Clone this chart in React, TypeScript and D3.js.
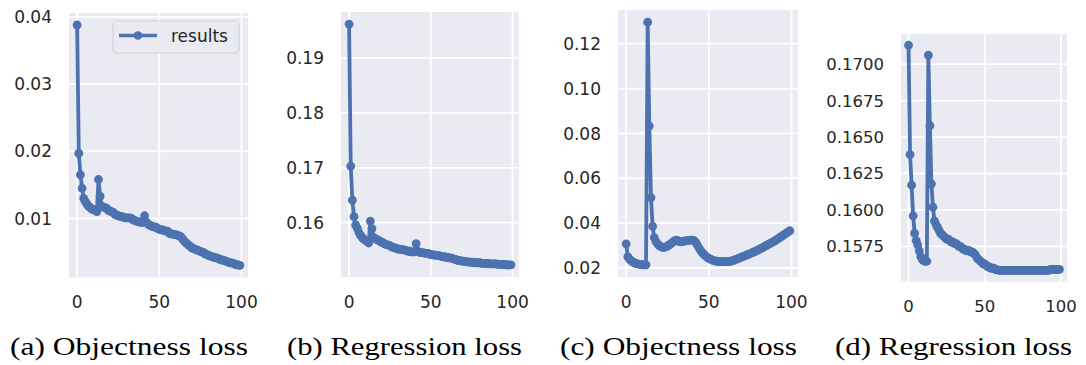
import React from "react";
import * as d3 from "d3";

// ---------- DATA ----------
const objectnessLossA = [
  0.0388, 0.0197, 0.0165, 0.0145, 0.013, 0.0125, 0.0121, 0.0118, 0.0116, 0.0114,
  0.0113, 0.0112, 0.011, 0.0158, 0.0133, 0.0118, 0.0117, 0.0116, 0.0115, 0.0112,
  0.0111, 0.011, 0.0109, 0.0106, 0.0105, 0.0104, 0.0103, 0.0103, 0.0102, 0.0101,
  0.0101, 0.0101, 0.0101, 0.01, 0.0098, 0.0097, 0.0096, 0.0095, 0.0095, 0.0094,
  0.0094, 0.0104, 0.0095, 0.0092, 0.009, 0.0089, 0.0088, 0.0087, 0.0087, 0.0085,
  0.0084, 0.0083, 0.0083, 0.0082, 0.0081, 0.0081, 0.0078, 0.0077, 0.0077, 0.0076,
  0.0076, 0.0075, 0.0074, 0.0073, 0.007, 0.0067, 0.0064, 0.0062, 0.006, 0.0058,
  0.0056, 0.0055, 0.0054, 0.0053, 0.0052, 0.0051, 0.005, 0.0049, 0.0047, 0.0046,
  0.0045, 0.0044, 0.0043, 0.0042, 0.0042, 0.0041, 0.004, 0.0039, 0.0038, 0.0038,
  0.0037, 0.0036, 0.0035, 0.0034, 0.0034, 0.0033, 0.0032, 0.0031, 0.0031, 0.003,
];

const regressionLossB = [
  0.1962, 0.1703, 0.1641, 0.1611, 0.1596, 0.159, 0.1582, 0.1577, 0.1573, 0.157,
  0.1568, 0.1566, 0.1563, 0.1603, 0.1589, 0.1573, 0.1571, 0.1569, 0.1568, 0.1566,
  0.1564, 0.1563, 0.1561, 0.156, 0.1559, 0.1558, 0.1556, 0.1555, 0.1554, 0.1553,
  0.1552, 0.1552, 0.1551, 0.1551, 0.155, 0.1549, 0.1548, 0.1548, 0.1547, 0.1547,
  0.1547, 0.1562, 0.1548, 0.1546, 0.1546, 0.1545, 0.1545, 0.1544, 0.1544, 0.1543,
  0.1542, 0.1542, 0.1541, 0.1541, 0.154, 0.154, 0.1539, 0.1538, 0.1538, 0.1537,
  0.1537, 0.1536, 0.1536, 0.1535, 0.1534, 0.1533, 0.1532, 0.1531, 0.1531, 0.153,
  0.153, 0.1529, 0.1529, 0.1528, 0.1528, 0.1528, 0.1527, 0.1527, 0.1527, 0.1527,
  0.1527, 0.1526, 0.1526, 0.1526, 0.1526, 0.1526, 0.1525, 0.1525, 0.1525, 0.1525,
  0.1525, 0.1524, 0.1524, 0.1524, 0.1524, 0.1524, 0.1523, 0.1523, 0.1523, 0.1523,
];

const objectnessLossC = [
  0.0308, 0.025, 0.024, 0.0233, 0.0227, 0.0223, 0.022, 0.0218, 0.0216, 0.0215,
  0.0215, 0.0214, 0.0214, 0.1296, 0.0833, 0.0514, 0.0386, 0.0335, 0.0318, 0.0308,
  0.03, 0.0295, 0.0292, 0.0292, 0.0294, 0.0298, 0.0303, 0.0308, 0.0314, 0.032,
  0.0324, 0.0323, 0.0318, 0.0317, 0.0318, 0.032, 0.0321, 0.0322, 0.0323, 0.0324,
  0.0324, 0.0322, 0.0315, 0.0303, 0.029, 0.0279, 0.0269, 0.0261, 0.0254, 0.0248,
  0.0243, 0.0239, 0.0236, 0.0233, 0.0231, 0.023, 0.0229, 0.0228, 0.0228, 0.0228,
  0.0228, 0.0228, 0.0229, 0.023, 0.0232, 0.0234, 0.0237, 0.024, 0.0243, 0.0246,
  0.0249, 0.0252, 0.0255, 0.0258, 0.0261, 0.0264, 0.0267, 0.0271, 0.0274, 0.0277,
  0.0281, 0.0285, 0.0289, 0.0293, 0.0297, 0.0301, 0.0305, 0.0309, 0.0313, 0.0317,
  0.0321, 0.0326, 0.0331, 0.0336, 0.0341, 0.0346, 0.0351, 0.0356, 0.0361, 0.0366,
];

const regressionLossD = [
  0.1713, 0.1638, 0.1617, 0.1596, 0.1584, 0.1579, 0.1576, 0.1572, 0.1568, 0.1566,
  0.1565, 0.15648, 0.15648, 0.17062, 0.16578, 0.16179, 0.16019, 0.15925, 0.159, 0.1588,
  0.1586, 0.1584, 0.1583, 0.1582, 0.1581, 0.158, 0.158, 0.1579, 0.1578, 0.1578,
  0.1577, 0.1577, 0.1576, 0.1575, 0.1575, 0.1574, 0.1573, 0.1573, 0.1572, 0.1572,
  0.1572, 0.1571, 0.1571, 0.157, 0.1569, 0.1567, 0.1566, 0.1565, 0.1564, 0.1563,
  0.1563, 0.1562, 0.1561, 0.1561, 0.156, 0.156, 0.156, 0.1559, 0.1559, 0.15585,
  0.15585, 0.15585, 0.15585, 0.15585, 0.15585, 0.15585, 0.15585, 0.15585, 0.15585, 0.15585,
  0.15585, 0.15585, 0.15585, 0.15585, 0.15585, 0.15585, 0.15585, 0.15585, 0.15585, 0.15585,
  0.15585, 0.15585, 0.15585, 0.15585, 0.15585, 0.15585, 0.15585, 0.15585, 0.15585, 0.15585,
  0.15585, 0.15585, 0.15585, 0.15592, 0.15592, 0.15592, 0.15592, 0.15592, 0.15592, 0.15592,
];

const xTicks = [0, 50, 100];
const yTicksA = [0.01, 0.02, 0.03, 0.04];
const yTicksB = [0.16, 0.17, 0.18, 0.19];
const yTicksC = [0.02, 0.04, 0.06, 0.08, 0.1, 0.12];
const yTicksD = [0.1575, 0.16, 0.1625, 0.165, 0.1675, 0.17];
const yDecimals = [2, 2, 2, 4];
const captions = [
  "(a) Objectness loss",
  "(b) Regression loss",
  "(c) Objectness loss",
  "(d) Regression loss",
];
const legendLabel = "results";

// ---------- LAYOUT ----------
const W = 1086;
const H = 365;
const BLUE = "#4C72B0";
const BG = "#EAEAF2";
const TXT = "#262626";

const panels = [
  { data: objectnessLossA, yTicks: yTicksA, left: 69, right: 248, top: 13, bottom: 277.5, font: 17, capX0: 10, capX1: 248, legend: true },
  { data: regressionLossB, yTicks: yTicksB, left: 341, right: 519, top: 12, bottom: 277, font: 17, capX0: 287, capX1: 522, legend: false },
  { data: objectnessLossC, yTicks: yTicksC, left: 618, right: 798, top: 10, bottom: 277, font: 17, capX0: 560, capX1: 797, legend: false },
  { data: regressionLossD, yTicks: yTicksD, left: 901, right: 1067, top: 34, bottom: 281.7, font: 16.5, capX0: 835, capX1: 1072, legend: false },
];

function Panel({ p, idx }: { p: (typeof panels)[number]; idx: number }) {
  const n = p.data.length;
  const xs = d3.range(n);
  const xPad = (n - 1) * 0.05;
  const x = d3.scaleLinear().domain([-xPad, n - 1 + xPad]).range([p.left, p.right]);
  const [mn, mx] = d3.extent(p.data) as [number, number];
  const yPad = (mx - mn) * 0.05;
  const y = d3.scaleLinear().domain([mn - yPad, mx + yPad]).range([p.bottom, p.top]);
  const line = d3
    .line<number>()
    .x((_, i) => x(xs[i]))
    .y((d) => y(d));
  const fmt = d3.format(`.${yDecimals[idx]}f`);
  return (
    <g>
      <rect x={p.left} y={p.top} width={p.right - p.left} height={p.bottom - p.top} fill={BG} />
      {xTicks.map((t) => (
        <line key={"gx" + t} x1={x(t)} x2={x(t)} y1={p.top} y2={p.bottom} stroke="#fff" strokeWidth={1.8} />
      ))}
      {p.yTicks.map((t) => (
        <line key={"gy" + t} x1={p.left} x2={p.right} y1={y(t)} y2={y(t)} stroke="#fff" strokeWidth={1.8} />
      ))}
      {p.legend && (
        <g>
          <rect x={113} y={21} width={126} height={32} rx={4} fill={BG} stroke="#cfcfd6" strokeWidth={1.2} />
          <line x1={119} x2={157} y1={35.5} y2={35.5} stroke={BLUE} strokeWidth={3.5} />
          <circle cx={138} cy={35.5} r={4.3} fill={BLUE} />
          <text x={171} y={41.5} fontSize={p.font} fill={TXT} fontFamily="DejaVu Sans">
            {legendLabel}
          </text>
        </g>
      )}
      <path d={line(p.data) || ""} fill="none" stroke={BLUE} strokeWidth={3.8} strokeLinejoin="round" strokeLinecap="round" />
      {p.data.map((d, i) => (
        <circle key={i} cx={x(xs[i])} cy={y(d)} r={4.4} fill={BLUE} />
      ))}
      {p.yTicks.map((t) => (
        <text key={"ty" + t} x={p.left - 17} y={y(t)} dy="0.36em" textAnchor="end" fontSize={p.font} fill={TXT} fontFamily="DejaVu Sans">
          {fmt(t)}
        </text>
      ))}
      {xTicks.map((t) => (
        <text key={"tx" + t} x={x(t)} y={p.bottom + 30.5} textAnchor="middle" fontSize={p.font} fill={TXT} fontFamily="DejaVu Sans">
          {t}
        </text>
      ))}
      <text
        x={p.capX0}
        y={355}
        fontSize={26}
        fill="#000"
        fontFamily="Liberation Serif"
        textLength={p.capX1 - p.capX0}
        lengthAdjust="spacingAndGlyphs"
      >
        {captions[idx]}
      </text>
    </g>
  );
}

export default function App() {
  return (
    <svg
      width={W}
      height={H}
      viewBox={`0 0 ${W} ${H}`}
      style={{ position: "absolute", left: 0, top: 0, background: "#fff" }}
    >
      <rect width={W} height={H} fill="#fff" />
      {panels.map((p, i) => (
        <Panel key={i} p={p} idx={i} />
      ))}
    </svg>
  );
}
